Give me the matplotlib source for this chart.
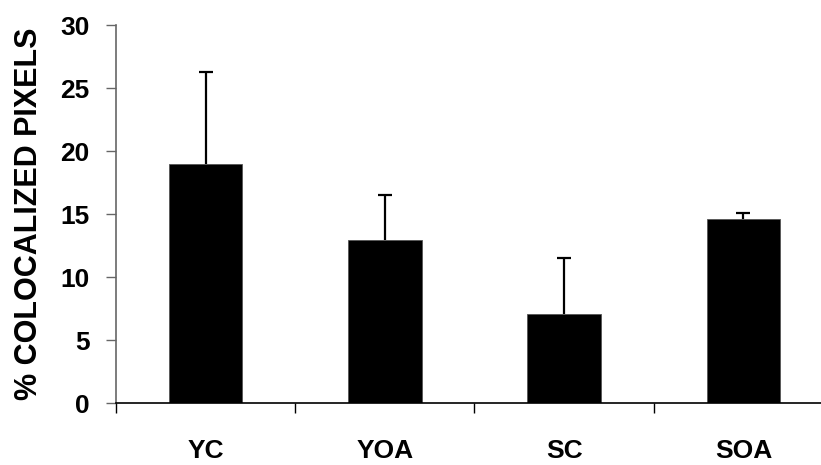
import numpy as np
import matplotlib
matplotlib.use('Agg')
import matplotlib.pyplot as plt

plt.rcParams['font.family'] = ['Liberation Sans', 'DejaVu Sans']

groups = ['YC', 'YOA', 'SC', 'SOA']
means = [19.0, 12.9, 7.1, 14.6]
errors = [7.3, 3.6, 4.4, 0.45]

fig = plt.figure(figsize=(8.21, 4.65), dpi=100)
ax = fig.add_axes([0.1413, 0.1333, 0.8733, 0.8129])

x = np.arange(len(groups))
ax.bar(x, means, width=0.41, color='black', edgecolor='#555555', linewidth=0.6, zorder=2)
eb = ax.errorbar(x, means, yerr=[np.zeros(len(errors)), errors], fmt='none',
                 ecolor='black', elinewidth=1.6, capsize=5, capthick=1.6, zorder=3)
# hide the cap sitting on the bar top (one-sided error bars)
for cap in eb[1]:
    if np.allclose(cap.get_ydata(), means):
        cap.set_visible(False)

ax.set_xlim(-0.5, 3.5)
ax.set_ylim(0, 30)
ax.set_yticks(range(0, 31, 5))
ax.set_xticks(x)
ax.set_xticklabels(groups, fontsize=19, fontweight='bold')
ax.set_xticks(np.arange(-0.5, 3.6, 1), minor=True)
ax.tick_params(axis='x', which='major', length=0, pad=26)
ax.tick_params(axis='x', which='minor', length=7, width=1, color='black', direction='out')
ax.tick_params(axis='y', length=7, width=1, color='#666666', pad=12, labelsize=19)
for lab in ax.get_yticklabels():
    lab.set_fontweight('bold')

ax.spines['top'].set_visible(False)
ax.spines['right'].set_visible(False)
ax.spines['left'].set_color('#666666')
ax.spines['left'].set_linewidth(1.2)
ax.spines['bottom'].set_linewidth(1.2)

ax.set_ylabel('% COLOCALIZED PIXELS', fontsize=22, fontweight='bold')
ax.yaxis.set_label_coords(-0.1, 0.5)

fig.savefig('out.png', dpi=100)
